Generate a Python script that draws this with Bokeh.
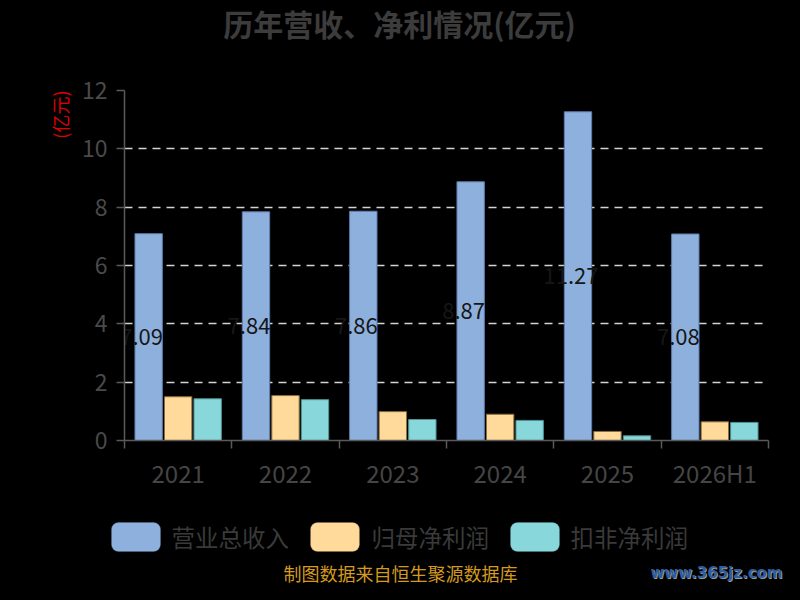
from bokeh.plotting import figure
from bokeh.layouts import column
from bokeh.models import (Range1d, FixedTicker, Title, Label, BoxAnnotation, ColumnDataSource)
from bokeh.core.properties import value
from bokeh.embed import file_html
from bokeh.resources import INLINE

categories = ["2021", "2022", "2023", "2024", "2025", "2026H1"]
revenue = [7.09, 7.84, 7.86, 8.87, 11.27, 7.08]
net_profit = [1.50, 1.54, 0.99, 0.90, 0.31, 0.64]
deducted_profit = [1.43, 1.40, 0.72, 0.69, 0.16, 0.62]
series_names = ["营业总收入", "归母净利润", "扣非净利润"]
y_ticks = [0, 2, 4, 6, 8, 10, 12]
title_text = "历年营收、净利情况(亿元)"
unit_text = "(亿元)"
source_text = "制图数据来自恒生聚源数据库"
watermark_text = "www.365jz.com"

FONT = "Noto Sans CJK SC"
colors = ["#8EB0DD", "#FFDA9A", "#88D7DA"]
outlines = ["#5E7DB0", "#8A6E3E", "#4E9396"]
BG = "#000000"
W = 784
HAS_FRAME_ALIGN = "frame_align" in figure.properties()


def style_fig(f):
    f.background_fill_color = BG
    f.border_fill_color = BG
    f.outline_line_color = None
    if HAS_FRAME_ALIGN:
        f.frame_align = False


def blank_fig(h):
    f = figure(width=W, height=h, output_backend="svg", toolbar_location=None,
               x_range=Range1d(0, W), y_range=Range1d(0, h),
               x_axis_type=None, y_axis_type=None,
               min_border_left=0, min_border_right=0, min_border_top=0, min_border_bottom=0)
    style_fig(f)
    f.xgrid.grid_line_color = None
    f.ygrid.grid_line_color = None
    return f


# ---------- top: title ----------
TOP_H = 64
top = blank_fig(TOP_H)
top.add_layout(Label(x=399, y=TOP_H - 22, text=title_text, text_font=FONT,
                     text_font_size="30px", text_font_style="bold", text_color="#3c3c3c",
                     text_align="center", text_baseline="middle"))

# ---------- main chart ----------
p = figure(frame_width=644, frame_height=350, output_backend="svg", toolbar_location=None,
           x_range=Range1d(0, len(categories)), y_range=Range1d(0, 12),
           min_border_left=124, min_border_right=16, min_border_top=26, min_border_bottom=50)
style_fig(p)

centers = [i + 0.5 for i in range(len(categories))]
offsets = [-0.275, 0.0, 0.275]
for vals, off, c, oc in zip([revenue, net_profit, deducted_profit], offsets, colors, outlines):
    src = ColumnDataSource(dict(x=[cx + off for cx in centers], top=vals))
    p.vbar(x="x", top="top", width=0.255, bottom=0, source=src,
           fill_color=c, line_color=oc, line_width=1)

lab_src = ColumnDataSource(dict(x=[cx + offsets[0] for cx in centers],
                                y=[v / 2 for v in revenue],
                                t=[f"{v:.2f}" for v in revenue]))
p.text(x="x", y="y", text="t", source=lab_src, text_color="#161616",
       text_font=value(FONT), text_font_size="22px", text_align="center",
       text_baseline="middle", x_offset=-7)

xa = p.xaxis[0]
xa.ticker = FixedTicker(ticks=centers, minor_ticks=list(range(len(categories) + 1)))
xa.major_label_overrides = {cx: c for cx, c in zip(centers, categories)}
xa.major_tick_line_color = None
xa.major_tick_out = 0
xa.major_tick_in = 0
xa.minor_tick_line_color = "#5a5a5a"
xa.minor_tick_line_width = 1.5
xa.minor_tick_out = 8
xa.minor_tick_in = 0
xa.axis_line_color = "#5a5a5a"
xa.axis_line_width = 1.5
xa.major_label_text_font = FONT
xa.major_label_text_font_size = "24px"
xa.major_label_text_color = "#454545"
xa.major_label_standoff = 6

ya = p.yaxis[0]
ya.ticker = FixedTicker(ticks=y_ticks)
ya.minor_tick_line_color = None
ya.major_tick_line_color = "#5a5a5a"
ya.major_tick_line_width = 1.5
ya.major_tick_out = 8
ya.major_tick_in = 0
ya.axis_line_color = "#5a5a5a"
ya.axis_line_width = 1.5
ya.major_label_text_font = FONT
ya.major_label_text_font_size = "23px"
ya.major_label_text_color = "#4a4a4a"
ya.major_label_standoff = 9

p.xgrid.grid_line_color = None
p.ygrid.ticker = FixedTicker(ticks=y_ticks)
p.ygrid.grid_line_color = "#d4d4d4"
p.ygrid.grid_line_width = 1.5
p.ygrid.grid_line_dash = "8 6"

p.add_layout(Title(text=unit_text, align="right", text_font=FONT, text_font_size="18px",
                   text_font_style="normal", text_color="#e00000", standoff=12), "left")

# ---------- bottom: legend + source ----------
BOT_H = 94
bot = blank_fig(BOT_H)
sw_left = [111, 310, 510]
txt_left = [171, 371, 570]
for name, c, oc, sl, tl in zip(series_names, colors, outlines, sw_left, txt_left):
    bot.add_layout(BoxAnnotation(left=sl, right=sl + 49, bottom=BOT_H - 59, top=BOT_H - 30,
                                 fill_color=c, fill_alpha=1, line_color=oc, line_width=1,
                                 border_radius=7))
    bot.add_layout(Label(x=tl, y=BOT_H - 44, text=name, text_font=FONT,
                         text_font_size="23.5px", text_color="#3a3a3a",
                         text_align="left", text_baseline="middle"))

bot.add_layout(Label(x=400, y=14, text=source_text, text_font=FONT,
                     text_font_size="18px", text_color="#D49A1F",
                     text_align="center", text_baseline="middle"))
bot.add_layout(Label(x=783, y=13, text=watermark_text, text_font="DejaVu Sans",
                     text_font_size="15px", text_font_style="bold", text_color="#9a9a9a",
                     text_align="right", text_baseline="middle"))
bot.add_layout(Label(x=782, y=14, text=watermark_text, text_font="DejaVu Sans",
                     text_font_size="15px", text_font_style="bold", text_color="#2F5E9E",
                     text_align="right", text_baseline="middle"))

layout = column(top, p, bot, spacing=0)
html = file_html(layout, INLINE)
html = html.replace("</head>", "<style>html, body { background-color: #000000; }</style></head>", 1)
open("out.html", "w").write(html)
